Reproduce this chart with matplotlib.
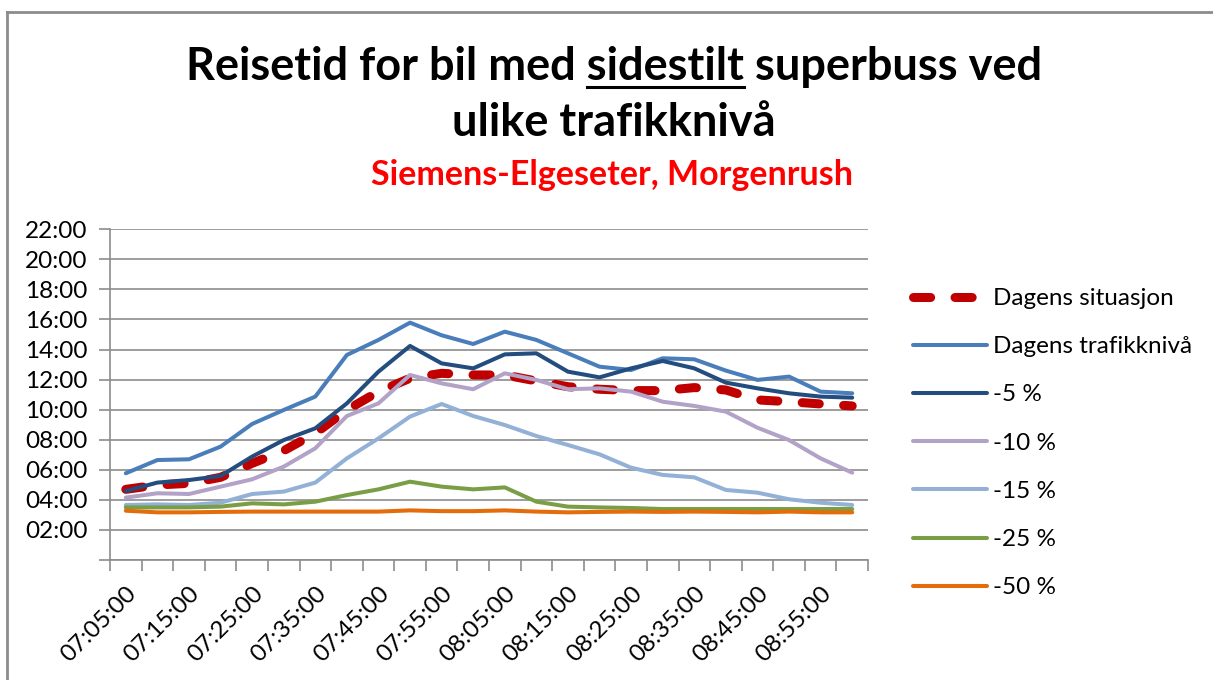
import matplotlib
matplotlib.use("Agg")
import matplotlib.pyplot as plt
from matplotlib.lines import Line2D
from matplotlib.ticker import FuncFormatter, MultipleLocator, FixedLocator

# ---------------- data (travel time in minutes) ----------------
times = ["07:05:00", "07:10:00", "07:15:00", "07:20:00", "07:25:00", "07:30:00",
         "07:35:00", "07:40:00", "07:45:00", "07:50:00", "07:55:00", "08:00:00",
         "08:05:00", "08:10:00", "08:15:00", "08:20:00", "08:25:00", "08:30:00",
         "08:35:00", "08:40:00", "08:45:00", "08:50:00", "08:55:00", "09:00:00"]

dagens_situasjon = [4.70, 4.99, 5.10, 5.50, 6.43, 7.27, 8.43, 9.98, 11.20, 12.09, 12.42, 12.31,
                    12.31, 11.91, 11.53, 11.36, 11.27, 11.27, 11.47, 11.31, 10.65, 10.53, 10.38, 10.25]
dagens_trafikkniva = [5.77, 6.65, 6.70, 7.54, 9.05, 9.98, 10.87, 13.64, 14.64, 15.79, 14.95, 14.37,
                      15.19, 14.64, 13.75, 12.86, 12.64, 13.42, 13.35, 12.60, 11.98, 12.20, 11.20, 11.09]
minus_5 = [4.59, 5.15, 5.32, 5.59, 6.88, 7.98, 8.76, 10.42, 12.53, 14.24, 13.08, 12.75,
           13.68, 13.75, 12.53, 12.15, 12.75, 13.24, 12.75, 11.80, 11.42, 11.09, 10.87, 10.80]
minus_10 = [4.15, 4.44, 4.39, 4.88, 5.37, 6.21, 7.43, 9.58, 10.42, 12.31, 11.75, 11.36,
            12.42, 11.98, 11.36, 11.42, 11.20, 10.53, 10.25, 9.87, 8.80, 7.98, 6.76, 5.81]
minus_15 = [3.66, 3.70, 3.66, 3.81, 4.39, 4.55, 5.15, 6.76, 8.09, 9.54, 10.38, 9.58,
            8.98, 8.25, 7.65, 7.03, 6.14, 5.66, 5.50, 4.66, 4.48, 4.04, 3.81, 3.66]
minus_25 = [3.50, 3.50, 3.50, 3.55, 3.77, 3.70, 3.88, 4.32, 4.70, 5.21, 4.88, 4.70,
            4.83, 3.88, 3.55, 3.50, 3.46, 3.39, 3.39, 3.39, 3.39, 3.39, 3.39, 3.39]
minus_50 = [3.28, 3.17, 3.17, 3.20, 3.22, 3.22, 3.22, 3.22, 3.22, 3.30, 3.25, 3.25,
            3.30, 3.22, 3.17, 3.20, 3.22, 3.20, 3.22, 3.20, 3.17, 3.22, 3.17, 3.17]

series_names = ["Dagens situasjon", "Dagens trafikknivå", "-5 %", "-10 %", "-15 %", "-25 %", "-50 %"]
series_values = [dagens_situasjon, dagens_trafikkniva, minus_5, minus_10, minus_15, minus_25, minus_50]
series_colors = ["#C00000", "#4A7EBB", "#234C7F", "#B3A2C7", "#93B1D6", "#7A9E45", "#E46C0A"]

title_line1 = "Reisetid for bil med sidestilt superbuss ved"
title_underlined = "sidestilt"
title_line2 = "ulike trafikknivå"
subtitle = "Siemens-Elgeseter, Morgenrush"

FONT = "Lato"
W, H, DPI = 1213, 680, 100
plt.rcParams["font.family"] = [FONT, "DejaVu Sans"]

fig = plt.figure(figsize=(W / DPI, H / DPI), dpi=DPI)
fig.patch.set_facecolor("white")

def fx(px):
    return px / W

def fy(py):
    return 1 - py / H

ax = fig.add_axes([fx(110), fy(560), fx(868) - fx(110), fy(229.3) - fy(560)])
x = list(range(len(times)))

for name, vals, col in zip(series_names, series_values, series_colors):
    if name == "Dagens situasjon":
        ax.plot(x, vals, color=col, lw=6.5, dashes=(1.9, 2.7), dash_capstyle="round",
                solid_capstyle="round", label=name, zorder=3)
    else:
        ax.plot(x, vals, color=col, lw=2.9, solid_joinstyle="round", solid_capstyle="round",
                label=name, zorder=3)

ax.set_xlim(-0.5, len(times) - 0.5)
ax.set_ylim(0, 22)
ax.yaxis.set_major_locator(MultipleLocator(2))

def mmss(v, pos):
    m = int(round(v))
    return "" if m == 0 else f"{m:02d}:00"

ax.yaxis.set_major_formatter(FuncFormatter(mmss))
ax.grid(axis="y", color="#8C8C8C", lw=1.2, zorder=0)
ax.set_axisbelow(True)

label_idx = x[::2]
ax.xaxis.set_major_locator(FixedLocator(label_idx))
ax.set_xticklabels([times[i] for i in label_idx])
ax.xaxis.set_minor_locator(FixedLocator([i - 0.5 for i in range(len(times) + 1)]))
ax.tick_params(axis="x", which="major", length=0, pad=16, labelsize=17.5, labelcolor="black")
ax.tick_params(axis="x", which="minor", length=8, width=1.2, color="#8C8C8C", direction="out")
ax.tick_params(axis="y", which="major", length=8, width=1.2, color="#8C8C8C", direction="out",
               pad=8, labelsize=17.5, labelcolor="black")
for lab in ax.get_xticklabels():
    lab.set_rotation(45)
    lab.set_ha("right")
    lab.set_va("top")
    lab.set_rotation_mode("anchor")

for side in ["top", "right"]:
    ax.spines[side].set_visible(False)
for side in ["left", "bottom"]:
    ax.spines[side].set_color("#8C8C8C")
    ax.spines[side].set_linewidth(1.2)

# legend
handles, labels = ax.get_legend_handles_labels()
leg = fig.legend(handles, labels, loc="upper left", bbox_to_anchor=(fx(913), fy(288)),
                 frameon=False, fontsize=17.5, handlelength=3.05, handletextpad=0.25,
                 labelspacing=1.12, borderaxespad=0, borderpad=0)

# figure border (top and left)
fig.add_artist(Line2D([fx(7), 1], [fy(12), fy(12)], color="#8C8C8C", lw=2))
fig.add_artist(Line2D([fx(7), fx(7)], [fy(12), 0], color="#8C8C8C", lw=2))

# titles
TS = 32.5
cx = fx(614)
t1 = fig.text(cx, fy(80), title_line1, ha="center", va="baseline", fontsize=TS,
              fontweight="bold", color="black")
fig.text(cx, fy(136), title_line2, ha="center", va="baseline", fontsize=TS,
         fontweight="bold", color="black")
fig.text(fx(612), fy(185), subtitle, ha="center", va="baseline", fontsize=24.5,
         fontweight="bold", color="#FF0000")

# underline the word "sidestilt"
renderer = fig.canvas.get_renderer()
bb = t1.get_window_extent(renderer)
pre = title_line1[: title_line1.index(title_underlined) + len(title_underlined)]
tmp = fig.text(0, 0, pre, fontsize=TS, fontweight="bold")
w_pre = tmp.get_window_extent(renderer).width
tmp.set_text(title_underlined)
w_word = tmp.get_window_extent(renderer).width
tmp.remove()
x_end = bb.x0 + w_pre
x_start = x_end - w_word
fig.add_artist(Line2D([x_start / W, x_end / W], [fy(87), fy(87)], color="black", lw=2.2))

fig.savefig("out.png", dpi=DPI)
